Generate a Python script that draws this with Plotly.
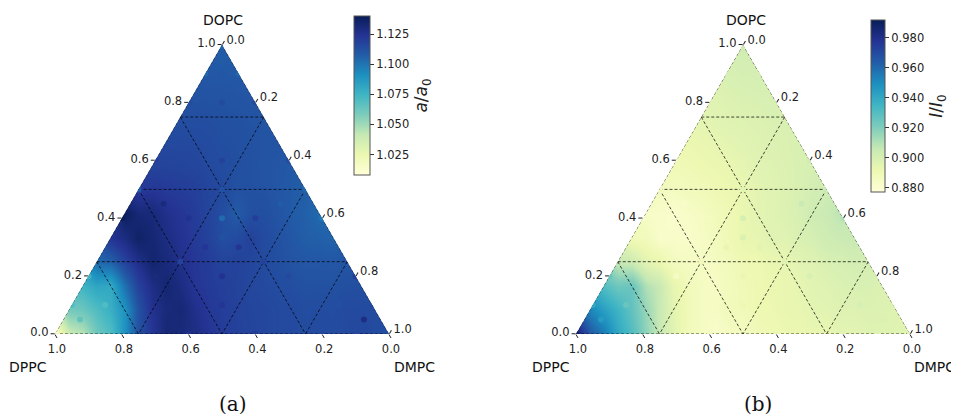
import plotly.graph_objects as go
import plotly.colors as pc

# ---------------- data ----------------
N_STEPS = 12  # lattice resolution of the read-off field (DOPC = i/12, DMPC = j/12)

# a/a0 field, one row per DOPC level (0 .. 1), values from DMPC = 0 (left) upwards
ratio_rows = [
    [1.012, 1.045, 1.070, 1.112, 1.132, 1.128, 1.120, 1.117, 1.115, 1.114, 1.114, 1.116, 1.113],
    [1.060, 1.070, 1.090, 1.125, 1.132, 1.122, 1.118, 1.116, 1.115, 1.114, 1.115, 1.114],
    [1.075, 1.080, 1.118, 1.133, 1.123, 1.119, 1.116, 1.114, 1.112, 1.112, 1.113],
    [1.103, 1.118, 1.134, 1.126, 1.120, 1.118, 1.114, 1.111, 1.110, 1.111],
    [1.124, 1.136, 1.128, 1.121, 1.113, 1.118, 1.112, 1.107, 1.105],
    [1.138, 1.131, 1.123, 1.117, 1.108, 1.113, 1.108, 1.103],
    [1.121, 1.121, 1.119, 1.115, 1.112, 1.110, 1.107],
    [1.117, 1.117, 1.115, 1.113, 1.111, 1.109],
    [1.115, 1.115, 1.113, 1.112, 1.111],
    [1.113, 1.113, 1.112, 1.111],
    [1.111, 1.111, 1.110],
    [1.109, 1.109],
    [1.107],
]

# I/I0 field, same layout
intensity_rows = [
    [0.988, 0.955, 0.930, 0.905, 0.888, 0.882, 0.886, 0.890, 0.892, 0.893, 0.895, 0.897, 0.895],
    [0.952, 0.935, 0.915, 0.895, 0.885, 0.888, 0.891, 0.893, 0.895, 0.897, 0.898, 0.897],
    [0.930, 0.925, 0.905, 0.888, 0.884, 0.889, 0.892, 0.894, 0.897, 0.899, 0.898],
    [0.905, 0.895, 0.886, 0.884, 0.888, 0.891, 0.893, 0.897, 0.900, 0.901],
    [0.888, 0.882, 0.882, 0.887, 0.893, 0.896, 0.899, 0.903, 0.905],
    [0.883, 0.881, 0.885, 0.890, 0.895, 0.898, 0.903, 0.908],
    [0.886, 0.887, 0.890, 0.893, 0.896, 0.899, 0.903],
    [0.889, 0.891, 0.893, 0.896, 0.898, 0.900],
    [0.892, 0.894, 0.896, 0.898, 0.899],
    [0.895, 0.897, 0.898, 0.899],
    [0.897, 0.899, 0.900],
    [0.900, 0.901],
    [0.902],
]

# measured compositions (DOPC, DPPC, DMPC) shown as dots
sample_dopc = [1.0, 0.9, 0.9, 0.9, 0.8, 0.8, 0.8, 0.6, 0.6, 0.6, 0.5, 0.5, 0.5, 0.45, 0.45,
               0.4, 0.4, 0.4, 0.4, 0.4, 1/3, 0.3, 0.3, 0.25, 0.25, 0.2, 0.2, 0.2, 0.2, 0.2,
               0.1, 0.1, 0.1, 0.1, 0.1, 0.05, 0.05, 0.0, 0.0, 0.0, 0.0, 0.0, 0.0]
sample_dppc = [0.0, 0.1, 0.05, 0.0, 0.2, 0.1, 0.0, 0.4, 0.2, 0.0, 0.5, 0.25, 0.0, 0.45, 0.1,
               0.6, 0.4, 0.3, 0.2, 0.0, 1/3, 0.4, 0.3, 0.5, 0.25, 0.8, 0.6, 0.4, 0.2, 0.0,
               0.9, 0.8, 0.45, 0.1, 0.0, 0.9, 0.05, 1.0, 0.6, 0.4, 0.2, 0.1, 0.0]
sample_dmpc = [0.0, 0.0, 0.05, 0.1, 0.0, 0.1, 0.2, 0.0, 0.2, 0.4, 0.0, 0.25, 0.5, 0.1, 0.45,
               0.0, 0.2, 0.3, 0.4, 0.6, 1/3, 0.3, 0.4, 0.25, 0.5, 0.0, 0.2, 0.4, 0.6, 0.8,
               0.0, 0.1, 0.45, 0.8, 0.9, 0.05, 0.9, 0.0, 0.4, 0.6, 0.8, 0.9, 1.0]
sample_ratio = [1.104, 1.104, 1.110, 1.104, 1.114, 1.114, 1.116, 1.120, 1.118, 1.114, 1.108, 1.112,
                1.104, 1.130, 1.108, 1.140, 1.125, 1.103, 1.120, 1.098, 1.112, 1.123, 1.123,
                1.118, 1.118, 1.075, 1.130, 1.125, 1.115, 1.120, 1.070, 1.070, 1.123, 1.113,
                1.115, 1.065, 1.128, 1.015, 1.126, 1.121, 1.116, 1.116, 1.113]
sample_intensity = [0.902, 0.900, 0.901, 0.900, 0.896, 0.899, 0.899, 0.888, 0.894, 0.902, 0.886,
                    0.896, 0.905, 0.883, 0.905, 0.882, 0.886, 0.900, 0.897, 0.910, 0.898, 0.893,
                    0.895, 0.888, 0.897, 0.925, 0.885, 0.892, 0.899, 0.900, 0.940, 0.925, 0.891,
                    0.900, 0.898, 0.945, 0.898, 0.990, 0.886, 0.892, 0.895, 0.897, 0.895]

grid_levels = [0.0, 0.25, 0.5, 0.75]
tick_values = [0.0, 0.2, 0.4, 0.6, 0.8, 1.0]
tick_labels = ["0.0", "0.2", "0.4", "0.6", "0.8", "1.0"]
ratio_range = [1.008, 1.140]
ratio_ticks = [1.025, 1.050, 1.075, 1.100, 1.125]
intensity_range = [0.877, 0.992]
intensity_ticks = [0.880, 0.900, 0.920, 0.940, 0.960, 0.980]

# ---------------- build ----------------
YLGNBU = pc.sequential.YlGnBu
FONT = "DejaVu Sans"
W, H = 959, 415
OFF = 8  # the page body margin shifts the figure by 8 px
SQ3 = 3 ** 0.5 / 2
TRI_W = 334
PAD = 0.06  # extra room around the triangle in the hidden cartesian frame


def fx(px):
    return (px - OFF) / W


def fy(py):
    return 1 - (py - OFF) / H


def lattice_xy(rows):
    """Map each (DOPC, DMPC) lattice sample to the triangle's cartesian frame."""
    xs, ys, vs = [], [], []
    for i, row in enumerate(rows):
        for j, val in enumerate(row):
            a = i / N_STEPS
            c = j / N_STEPS
            xs.append(round(c + a / 2, 6))
            ys.append(round(a * SQ3, 6))
            vs.append(val)
    return xs, ys, vs


def grid_trace(subplot):
    a, b, c = [], [], []
    for lv in grid_levels:
        rest = 1.0 - lv
        a += [lv, lv, None]; b += [rest, 0.0, None]; c += [0.0, rest, None]
        a += [rest, 0.0, None]; b += [lv, lv, None]; c += [0.0, rest, None]
        a += [rest, 0.0, None]; b += [0.0, rest, None]; c += [lv, lv, None]
    return go.Scatterternary(a=a, b=b, c=c, mode="lines", subplot=subplot,
                             line=dict(color="rgba(0,0,0,0.9)", width=0.8, dash="3px,2px"),
                             hoverinfo="skip", showlegend=False)


fig = go.Figure()

panels = [
    dict(sp="ternary", xa="x", ya="y", rows=ratio_rows, samples=sample_ratio, rng=ratio_range,
         cticks=ratio_ticks, ctitle="<i>a</i>/<i>a</i><sub>0</sub>",
         cbx=354, cby=16, cblen=159, cbth=16, xc=222),
    dict(sp="ternary2", xa="x2", ya="y2", rows=intensity_rows, samples=sample_intensity,
         rng=intensity_range, cticks=intensity_ticks, ctitle="<i>I</i>/<i>I</i><sub>0</sub>",
         cbx=871, cby=20, cblen=172, cbth=14, xc=743),
]

# white masks covering the part of each heatmap frame outside the triangle
E = 0.3
MASK_X = [0, 0.5, 0.5, -E, -E, 0, None,
          1, 0.5, 0.5, 1 + E, 1 + E, 1, None,
          -E, 1 + E, 1 + E, -E, -E]
MASK_Y = [0, SQ3, SQ3 + E, SQ3 + E, 0, 0, None,
          0, SQ3, SQ3 + E, SQ3 + E, 0, 0, None,
          0, 0, -E, -E, 0]

for p in panels:
    xs, ys, vs = lattice_xy(p["rows"])
    fig.add_trace(go.Heatmap(
        x=xs, y=ys, z=vs, xaxis=p["xa"], yaxis=p["ya"], zsmooth="best", connectgaps=True,
        colorscale=YLGNBU, zmin=p["rng"][0], zmax=p["rng"][1], hoverinfo="skip",
        colorbar=dict(x=fx(p["cbx"]), xanchor="left", y=fy(p["cby"]), yanchor="top",
                      lenmode="pixels", len=p["cblen"], thickness=p["cbth"], xpad=0, ypad=0,
                      outlinecolor="#555", outlinewidth=1,
                      tickvals=p["cticks"], ticktext=["%.3f" % t for t in p["cticks"]],
                      ticks="outside", ticklen=4, tickcolor="#333",
                      tickfont=dict(family=FONT, size=11.5, color="#222"),
                      title=dict(text=p["ctitle"], side="right",
                                 font=dict(family=FONT, size=17, color="#222")))))
    fig.add_trace(go.Scatter(
        x=MASK_X, y=MASK_Y, xaxis=p["xa"], yaxis=p["ya"], mode="lines", fill="toself",
        fillcolor="white", line=dict(width=0, color="white"), hoverinfo="skip",
        showlegend=False))
    fig.add_trace(grid_trace(p["sp"]))
    fig.add_trace(go.Scatterternary(
        a=sample_dopc, b=sample_dppc, c=sample_dmpc, mode="markers", subplot=p["sp"],
        marker=dict(size=6, color=p["samples"], colorscale=YLGNBU, cmin=p["rng"][0],
                    cmax=p["rng"][1], showscale=False, line=dict(width=0)),
        hoverinfo="skip", showlegend=False))


def axis():
    return dict(title=dict(text=""),
                tickvals=tick_values, ticktext=tick_labels, ticks="outside", ticklen=4,
                tickcolor="#222", tickfont=dict(family=FONT, size=11.5, color="#222"),
                showgrid=False, showline=False, min=0)


bottom_px = 334
top_px = bottom_px - TRI_W * SQ3
pad_px = PAD * TRI_W
for idx, p in enumerate(panels):
    left_px = p["xc"] - TRI_W / 2
    right_px = p["xc"] + TRI_W / 2
    tern_x = [fx(left_px), fx(right_px)]
    tern_y = [fy(bottom_px), fy(top_px)]
    fig.update_layout({p["sp"]: dict(domain=dict(x=tern_x, y=tern_y), bgcolor="rgba(0,0,0,0)",
                                     sum=1, aaxis=axis(), baxis=axis(), caxis=axis())})
    sfx = "" if idx == 0 else "2"
    fig.update_layout({
        "xaxis" + sfx: dict(domain=[fx(left_px - pad_px), fx(right_px + pad_px)],
                            range=[-PAD, 1 + PAD], visible=False, fixedrange=True,
                            anchor="y" + sfx),
        "yaxis" + sfx: dict(domain=[fy(bottom_px + pad_px), fy(top_px - pad_px)],
                            range=[-PAD, SQ3 + PAD], visible=False, fixedrange=True,
                            anchor="x" + sfx),
    })

# axis titles and captions
title_pos = [("DOPC", 223, 20), ("DPPC", 28, 367), ("DMPC", 414, 367),
             ("DOPC", 746, 20), ("DPPC", 551, 367), ("DMPC", 934, 367)]
for txt, px, py in title_pos:
    fig.add_annotation(x=fx(px), y=fy(py), xref="paper", yref="paper", text=txt,
                       xanchor="center", yanchor="middle", showarrow=False,
                       font=dict(family=FONT, size=14, color="#111"))
for txt, px in [("(a)", 233), ("(b)", 758)]:
    fig.add_annotation(x=fx(px), y=fy(404), xref="paper", yref="paper", text=txt,
                       xanchor="center", yanchor="middle", showarrow=False,
                       font=dict(family="DejaVu Serif", size=20, color="#111"))

fig.update_layout(width=W, height=H, margin=dict(l=0, r=0, t=0, b=0, autoexpand=False),
                  paper_bgcolor="white", plot_bgcolor="rgba(0,0,0,0)", showlegend=False)

fig.write_html("out.html")
